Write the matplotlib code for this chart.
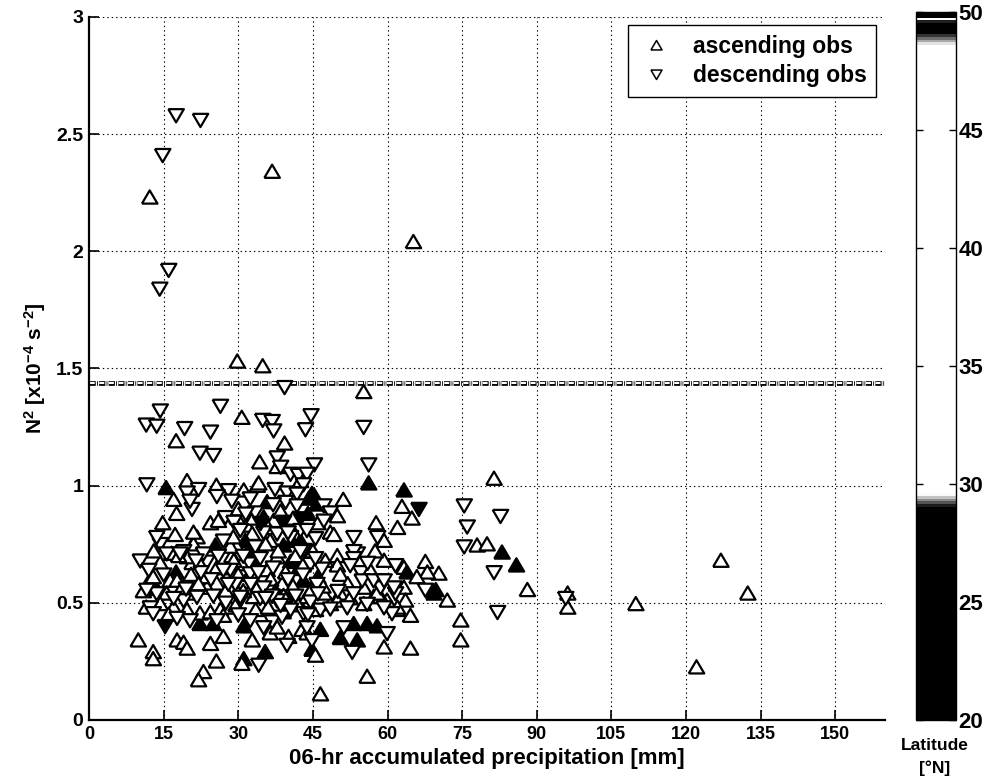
import matplotlib
matplotlib.use("Agg")
import matplotlib.pyplot as plt
import numpy as np
from matplotlib.colors import LinearSegmentedColormap, Normalize
from matplotlib.cm import ScalarMappable
from matplotlib.lines import Line2D

plt.rcParams['font.family'] = ['Liberation Sans', 'DejaVu Sans']
plt.rcParams['font.weight'] = 'bold'
plt.rcParams['axes.labelweight'] = 'bold'
plt.rcParams['mathtext.fontset'] = 'custom'
plt.rcParams['mathtext.rm'] = 'Liberation Sans:bold'
plt.rcParams['mathtext.bf'] = 'Liberation Sans:bold'
plt.rcParams['mathtext.default'] = 'bf'
plt.rcParams['lines.scale_dashes'] = False

# ---- ascending observations: precipitation [mm], N^2 [1e-4 s^-2], latitude [deg N]
asc_precip = [
    12.2, 36.8, 65.2, 29.8, 34.9, 55.2, 30.7, 17.5, 39.3, 34.3,
    37.8, 42.5, 15.5, 19.7, 25.6, 31.1, 33.8, 45.2, 45.8, 51.1,
    56.2, 57.7, 17.0, 17.6, 14.8, 24.4, 26.0, 25.4, 21.7, 17.3,
    14.3, 20.7, 17.5, 12.3, 10.9, 13.6, 22.3, 25.0, 31.1, 48.5,
    49.9, 59.3, 63.3, 62.9, 34.1, 62.0, 49.2, 49.9, 63.3, 44.8,
    9.9, 12.9, 12.9, 17.7, 19.0, 19.7, 24.4, 27.0, 25.6, 23.0,
    22.0, 32.8, 31.1, 30.7, 35.4, 36.4, 40.1, 42.8, 43.8, 46.5,
    44.8, 45.5, 46.5, 55.9, 50.5, 53.2, 55.9, 53.9, 57.9, 59.3,
    72.0, 74.7, 74.7, 64.6, 62.0, 64.6, 69.3, 96.2, 96.2, 109.9,
    127.0, 132.4, 122.1, 88.1, 85.9, 83.0, 81.4, 64.9, 78.0, 80.0,
    67.6, 70.3, 68.0, 63.9, 69.7, 65.9, 35.8, 44.2, 29.7, 35.1,
    37.1, 31.7, 32.8, 31.4, 36.4, 40.8, 42.5, 29.7, 39.1, 28.7,
    30.7, 37.8, 40.5, 35.8, 42.1, 31.4, 38.8, 43.1, 63.3, 63.6,
    33.1, 40.5, 50.5, 48.5, 57.2, 59.9, 62.0, 16.6, 19.7, 12.9,
    16.3, 17.7, 15.6, 18.7, 20.3, 23.7, 23.4, 25.7, 29.1, 21.0,
    28.4, 14.3, 17.0, 19.7, 22.3, 26.4, 28.4, 24.4, 27.0, 39.1,
    41.8, 43.8, 47.2, 49.9, 52.5, 55.2, 58.6, 37.8, 49.9, 59.3,
    55.2, 57.9, 30.0, 33.0, 36.0, 38.5, 41.0, 44.0, 46.0, 29.0,
    32.0, 35.5, 38.0, 41.5, 45.0, 47.5, 30.0, 33.5, 36.5, 39.5,
    43.0, 46.0, 31.0, 34.0, 37.5, 41.0, 44.5, 47.0, 27.5, 29.5,
    33.5, 36.0, 39.0, 42.0, 45.5, 50.5, 52.0, 56.5, 57.5, 11.5,
    18.0, 20.5, 22.0, 16.0, 21.0, 13.0,
]
asc_n2 = [
    2.23, 2.34, 2.04, 1.53, 1.51, 1.40, 1.29, 1.19, 1.18, 1.10,
    1.08, 1.02, 0.99, 1.02, 1.00, 0.98, 1.00, 0.96, 0.92, 0.94,
    1.01, 0.84, 0.94, 0.88, 0.84, 0.84, 0.85, 0.745, 0.78, 0.79,
    0.67, 0.67, 0.63, 0.60, 0.55, 0.56, 0.41, 0.41, 0.40, 0.80,
    0.70, 0.68, 0.98, 0.91, 1.01, 0.82, 0.79, 0.66, 0.65, 0.965,
    0.34, 0.29, 0.26, 0.34, 0.33, 0.305, 0.325, 0.355, 0.25, 0.205,
    0.17, 0.34, 0.26, 0.24, 0.29, 0.37, 0.355, 0.385, 0.37, 0.385,
    0.30, 0.275, 0.11, 0.185, 0.35, 0.41, 0.41, 0.34, 0.40, 0.31,
    0.51, 0.425, 0.34, 0.305, 0.47, 0.445, 0.54, 0.54, 0.48, 0.495,
    0.68, 0.54, 0.225, 0.555, 0.66, 0.715, 1.03, 0.86, 0.745, 0.75,
    0.675, 0.625, 0.63, 0.63, 0.555, 0.61, 0.93, 0.945, 0.865, 0.865,
    0.85, 0.83, 0.795, 0.765, 0.765, 0.765, 0.765, 0.74, 0.745, 0.70,
    0.665, 0.695, 0.675, 0.64, 0.645, 0.59, 0.58, 0.595, 0.565, 0.51,
    0.525, 0.52, 0.54, 0.495, 0.525, 0.51, 0.48, 0.71, 0.695, 0.61,
    0.595, 0.595, 0.54, 0.565, 0.54, 0.565, 0.61, 0.65, 0.68, 0.75,
    0.74, 0.495, 0.48, 0.47, 0.455, 0.47, 0.48, 0.46, 0.445, 0.53,
    0.51, 0.525, 0.54, 0.51, 0.52, 0.495, 0.525, 0.395, 0.87, 0.765,
    0.565, 0.54, 0.90, 0.86, 0.82, 0.89, 0.86, 0.88, 0.84, 0.78,
    0.72, 0.75, 0.72, 0.70, 0.72, 0.68, 0.62, 0.66, 0.60, 0.63,
    0.66, 0.61, 0.55, 0.57, 0.55, 0.57, 0.55, 0.57, 0.55, 0.49,
    0.47, 0.48, 0.46, 0.49, 0.47, 0.62, 0.58, 0.64, 0.72, 0.48,
    0.70, 0.62, 0.58, 0.45, 0.80, 0.72,
]
asc_lat = [
    36, 41, 38, 33, 44, 37, 35, 40, 31, 42,
    36, 39, 25, 34, 43, 30, 38, 24, 26, 35,
    25, 41, 33, 46, 37, 32, 39, 23, 36, 44,
    31, 38, 26, 35, 42, 24, 25, 22, 26, 34,
    40, 31, 24, 37, 43, 33, 38, 45, 36, 25,
    39, 32, 41, 35, 30, 37, 44, 34, 38, 31,
    42, 36, 26, 33, 24, 40, 35, 32, 43, 23,
    25, 37, 32, 39, 26, 24, 25, 22, 26, 36,
    41, 34, 38, 30, 45, 35, 25, 37, 33, 40,
    36, 42, 31, 38, 24, 26, 35, 39, 32, 44,
    36, 30, 41, 25, 23, 37, 24, 26, 38, 25,
    33, 40, 36, 24, 42, 26, 23, 35, 25, 39,
    31, 37, 24, 44, 26, 33, 38, 25, 36, 41,
    34, 23, 37, 30, 43, 35, 39, 32, 40, 36,
    45, 34, 38, 31, 42, 37, 33, 39, 35, 41,
    36, 30, 44, 37, 33, 40, 35, 38, 42, 34,
    39, 31, 36, 43, 35, 38, 32, 40, 37, 33,
    41, 36, 34, 39, 31, 42, 36, 24, 38, 33,
    25, 40, 35, 44, 37, 30, 41, 23, 36, 39,
    34, 26, 38, 32, 25, 43, 35, 40, 37, 31,
    42, 36, 24, 39, 34, 38, 33, 41, 36, 40,
    35, 43, 31, 37, 39, 34,
]

# ---- descending observations
desc_precip = [
    17.5, 22.4, 14.8, 16.0, 14.2, 39.3, 14.3, 26.4, 11.5, 13.6,
    34.9, 36.8, 37.1, 44.6, 43.5, 55.2, 19.2, 24.4, 22.3, 25.0,
    37.8, 45.3, 56.2, 40.5, 42.1, 43.8, 11.6, 22.0, 19.7, 28.0,
    25.7, 37.4, 39.8, 43.1, 41.8, 47.2, 48.5, 20.7, 20.3, 27.4,
    29.1, 14.3, 13.6, 19.0, 10.3, 15.3, 53.2, 53.9, 38.5, 45.5,
    42.5, 43.8, 53.2, 53.2, 61.6, 34.1, 36.8, 38.8, 39.8, 44.8,
    52.9, 82.1, 59.9, 60.9, 95.8, 66.3, 75.4, 82.7, 76.0, 75.4,
    81.4, 58.6, 58.6, 67.6, 61.6, 54.6, 54.9, 32.4, 39.5, 41.8,
    28.7, 33.4, 42.5, 39.1, 30.4, 35.1, 37.8, 40.5, 33.4, 43.1,
    34.4, 44.5, 32.4, 46.8, 29.4, 35.1, 45.8, 61.3, 30.4, 37.8,
    44.5, 53.2, 51.9, 55.9, 15.6, 18.3, 13.6, 11.6, 19.0, 21.7,
    27.0, 28.4, 23.7, 23.0, 27.0, 12.3, 12.9, 17.7, 20.3, 25.7,
    32.4, 35.1, 30.4, 34.4, 36.8, 40.5, 43.1, 46.5, 48.5, 59.3,
    51.2, 43.8, 47.2, 57.2, 59.3, 31.5, 34.5, 37.0, 40.0, 42.5,
    45.5, 31.0, 34.0, 37.0, 40.0, 43.0, 46.0, 28.0, 32.5, 35.5,
    38.5, 41.5, 44.0, 30.0, 26.0, 27.0, 24.5, 22.5, 25.0, 27.5,
    50.0, 56.0, 58.0, 52.5, 15.0, 19.5, 21.5, 17.0, 12.0,
]
desc_n2 = [
    2.58, 2.56, 2.41, 1.92, 1.84, 1.42, 1.32, 1.34, 1.26, 1.255,
    1.28, 1.275, 1.235, 1.30, 1.24, 1.25, 1.245, 1.23, 1.14, 1.13,
    1.12, 1.09, 1.09, 1.05, 1.045, 1.05, 1.005, 0.985, 0.97, 0.98,
    0.955, 0.985, 0.97, 1.005, 0.965, 0.915, 0.885, 0.90, 0.935, 0.865,
    0.845, 0.75, 0.78, 0.72, 0.68, 0.40, 0.78, 0.71, 1.08, 0.775,
    0.81, 0.81, 0.72, 0.69, 0.66, 0.235, 0.42, 0.44, 0.32, 0.34,
    0.29, 0.46, 0.37, 0.455, 0.52, 0.90, 0.915, 0.87, 0.825, 0.74,
    0.63, 0.595, 0.565, 0.555, 0.54, 0.63, 0.595, 0.945, 0.93, 0.915,
    0.935, 0.885, 0.86, 0.845, 0.81, 0.80, 0.795, 0.78, 0.74, 0.725,
    0.69, 0.665, 0.625, 0.645, 0.58, 0.565, 0.58, 0.565, 0.51, 0.51,
    0.505, 0.54, 0.48, 0.495, 0.71, 0.71, 0.54, 0.555, 0.51, 0.525,
    0.595, 0.64, 0.675, 0.71, 0.765, 0.48, 0.455, 0.435, 0.425, 0.425,
    0.425, 0.395, 0.525, 0.52, 0.53, 0.47, 0.455, 0.47, 0.475, 0.48,
    0.395, 0.395, 0.85, 0.595, 0.595, 0.88, 0.84, 0.92, 0.80, 0.72,
    0.69, 0.70, 0.63, 0.65, 0.60, 0.62, 0.54, 0.58, 0.58, 0.52,
    0.49, 0.53, 0.45, 0.45, 0.70, 0.64, 0.60, 0.63, 0.53, 0.50,
    0.55, 0.67, 0.78, 0.66, 0.62, 0.56, 0.68, 0.52, 0.64,
]
desc_lat = [
    37, 41, 34, 39, 32, 36, 43, 35, 38, 30,
    40, 33, 45, 36, 31, 42, 37, 34, 39, 35,
    41, 33, 38, 36, 44, 32, 40, 35, 37, 31,
    42, 36, 39, 34, 38, 30, 43, 35, 40, 33,
    37, 41, 36, 32, 39, 25, 34, 38, 35, 42,
    31, 37, 40, 33, 36, 39, 34, 41, 35, 38,
    32, 37, 43, 36, 40, 24, 35, 39, 33, 37,
    42, 34, 38, 31, 36, 40, 35, 37, 33, 41,
    36, 39, 25, 24, 34, 42, 36, 31, 38, 35,
    40, 33, 37, 43, 36, 39, 34, 38, 32, 41,
    35, 37, 33, 40, 36, 39, 34, 42, 37, 31,
    38, 35, 40, 33, 36, 41, 37, 34, 39, 32,
    38, 36, 40, 35, 43, 37, 33, 39, 36, 34,
    41, 35, 38, 32, 40, 37, 24, 35, 41, 33,
    38, 36, 42, 34, 39, 31, 37, 35, 40, 33,
    38, 36, 43, 34, 39, 36, 32, 41, 37, 35,
    38, 33, 40, 36, 39, 34, 42, 37, 35,
]

x_ticks = [0, 15, 30, 45, 60, 75, 90, 105, 120, 135, 150]
y_ticks = [0, 0.5, 1, 1.5, 2, 2.5, 3]
y_tick_labels = ['0', '0.5', '1', '1.5', '2', '2.5', '3']
lat_ticks = [20, 25, 30, 35, 40, 45, 50]
threshold_n2 = 1.44

# latitude colour scale: black at the southern and northern ends, white in between
lat_cmap = LinearSegmentedColormap.from_list('lat_bw', [
    (0.0, 'black'), (0.300, 'black'), (0.318, 'white'),
    (0.955, 'white'), (0.972, 'black'), (0.988, 'black'),
    (0.990, 'white'), (0.994, 'white'), (0.996, 'black'), (1.0, 'black')])
lat_norm = Normalize(vmin=20, vmax=50)

up_tri = [(-1.0, -0.8), (1.0, -0.8), (0.0, 0.9), (-1.0, -0.8)]
down_tri = [(-1.0, 0.8), (1.0, 0.8), (0.0, -0.9), (-1.0, 0.8)]

fig = plt.figure(figsize=(9.89, 7.78), dpi=100)
ax = fig.add_axes([0.0900, 0.0746, 0.8049, 0.9036])
cax = fig.add_axes([0.9262, 0.0746, 0.0404, 0.9100])

ax.set_xlim(0, 160)
ax.set_ylim(0, 3)

# dotted grid
for xv in x_ticks[1:]:
    ax.axvline(xv, color='black', lw=0.8, linestyle=(0, (1.0, 2.2)), zorder=0.5)
for yv in y_ticks[1:]:
    ax.axhline(yv, color='black', lw=0.8, linestyle=(0, (1.0, 2.2)), zorder=0.5)

# threshold line drawn as hollow dash-dot
ax.axhline(threshold_n2, color='black', lw=3.4, linestyle=(0, (4.5, 0.9, 0.6, 0.9)), zorder=1)
ax.axhline(threshold_n2, color='white', lw=1.5, linestyle=(6.4, (3.6, 3.3)), zorder=1.1)

ms2 = 11.2 ** 2
ax.scatter(asc_precip, asc_n2, s=ms2, marker=up_tri,
           c=asc_lat, cmap=lat_cmap, norm=lat_norm,
           edgecolors='black', linewidths=1.6, zorder=3)
ax.scatter(desc_precip, desc_n2, s=ms2, marker=down_tri,
           c=desc_lat, cmap=lat_cmap, norm=lat_norm,
           edgecolors='black', linewidths=1.6, zorder=3)

ax.set_xticks(x_ticks)
ax.set_xticklabels([str(v) for v in x_ticks])
ax.set_yticks(y_ticks)
ax.set_yticklabels(y_tick_labels)
ax.tick_params(axis='both', direction='in', length=7, width=1.2, colors='black')
ax.tick_params(axis='x', labelsize=13, pad=4)
ax.tick_params(axis='y', labelsize=14, pad=4)
for side in ('top', 'right'):
    ax.spines[side].set_visible(False)
for side in ('left', 'bottom'):
    ax.spines[side].set_linewidth(1.6)

ax.set_xlabel('06-hr accumulated precipitation [mm]', fontsize=16, labelpad=4)
ax.set_ylabel(r'N$^{2}$ [x10$^{-4}$ s$^{-2}$]', fontsize=15, labelpad=6)

handles = [
    Line2D([], [], linestyle='none', marker=up_tri, ms=8, mfc='white', mec='black', mew=1.1),
    Line2D([], [], linestyle='none', marker=down_tri, ms=8, mfc='white', mec='black', mew=1.1),
]
leg = ax.legend(handles, ['ascending obs', 'descending obs'],
                loc='upper right', bbox_to_anchor=(0.9887, 0.9886), borderaxespad=0,
                prop={'size': 16.5, 'weight': 'bold'}, frameon=True, fancybox=False,
                framealpha=1, edgecolor='black', handlelength=1.6, handletextpad=0.8,
                borderpad=0.42, labelspacing=0.3)
leg.get_frame().set_linewidth(1.0)
leg.set_zorder(5)

# latitude colour bar
cb = fig.colorbar(ScalarMappable(norm=lat_norm, cmap=lat_cmap), cax=cax)
cb.set_ticks(lat_ticks)
cb.set_ticklabels([str(v) for v in lat_ticks])
cax.tick_params(direction='in', left=True, right=True, length=5, width=1.0,
                labelsize=16, pad=2)
cb.outline.set_linewidth(1.0)
fig.text(0.945, 0.042, 'Latitude', ha='center', va='center', fontsize=12.5)
fig.text(0.945, 0.013, '[°N]', ha='center', va='center', fontsize=12.5)

fig.savefig('out.png', dpi=100)
